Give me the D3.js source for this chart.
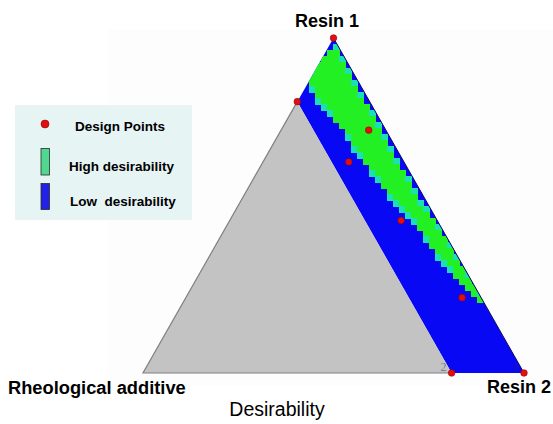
<!DOCTYPE html>
<html>
<head>
<meta charset="utf-8">
<script src="https://cdn.jsdelivr.net/npm/d3@7"></script>
<style>
  body { margin: 0; background: #fff; }
  svg { display: block; font-family: Arial, "Liberation Sans", sans-serif; }
</style>
</head>
<body>
<svg id="chart" width="553" height="424"></svg>
<script>
// mixture components (ternary corners)
var vertexNames = ['Resin 1', 'Resin 2', 'Rheological additive'];

// upper bound on the rheological additive fraction
var additiveMax = 0.19;

// design points as fractions (resin 1, resin 2, additive)
var designResin1   = [1.00, 0.81, 0.725, 0.63, 0.455, 0.225, 0.00, 0.00];
var designResin2   = [0.00, 0.00, 0.23,  0.225, 0.45, 0.725, 0.81, 1.00];
var designAdditive = [0.00, 0.19, 0.045, 0.145, 0.095, 0.05, 0.19, 0.00];

// high desirability band: additive range read at several resin 1 levels
var bandResin1 = [0.975, 0.93, 0.87, 0.81, 0.725, 0.665, 0.516, 0.457, 0.358, 0.257, 0.21];
var bandLow    = [0.008, 0.010, 0.013, 0.013, 0.016, 0.018, 0.018, 0.010, 0.004, 0.000, 0.000];
var bandHigh   = [0.014, 0.075, 0.132, 0.130, 0.108, 0.108, 0.084, 0.062, 0.050, 0.028, 0.000];

var legendLabels = ['Design Points', 'High desirability', 'Low  desirability'];

var colors = {
    high:   '#22f022',
    edge:   '#1ce0b4',
    low:    '#0808f4',
    gray:   '#c3c3c3',
    point:  '#e01010',
    legend: '#e6f4f4'
};

var svg = d3.select('#chart');

// faint plot backdrop
svg.append('rect')
    .attr('x', 108).attr('y', 29)
    .attr('width', 445).attr('height', 357)
    .attr('fill', '#fdfdfd');

// ternary projection: x across the base, y by resin 1 height
var x = d3.scaleLinear().domain([0, 1]).range([143, 524]);
var y = d3.scaleLinear().domain([0, 1]).range([373, 38]);

function project(r1, r2) {
    return [x(r2 + r1 / 2), y(r1)];
}

var feasible = [
    project(1, 0),
    project(0, 1),
    project(0, 1 - additiveMax),
    project(1 - additiveMax, 0)
];
var infeasible = [
    project(0, 0),
    project(1 - additiveMax, 0),
    project(0, 1 - additiveMax)
];

var line = d3.line();

svg.append('clipPath')
    .attr('id', 'feasible-clip')
    .append('path')
    .attr('d', line(feasible) + 'Z');

// low desirability everywhere in the feasible strip
svg.append('path')
    .attr('d', line(feasible) + 'Z')
    .attr('fill', colors.low);

// high desirability cells on a coarse screen grid
var bandLo = d3.scaleLinear().domain(bandResin1).range(bandLow).clamp(true);
var bandHi = d3.scaleLinear().domain(bandResin1).range(bandHigh).clamp(true);
var cell = 6;
var cells = [];
var xs = d3.extent(feasible, p => p[0]);
var ys = d3.extent(feasible, p => p[1]);
for (var cy = ys[0]; cy < ys[1]; cy += cell) {
    for (var cx = xs[0]; cx < xs[1]; cx += cell) {
        var r1 = y.invert(cy + cell / 2);
        var r2 = x.invert(cx + cell / 2) - r1 / 2;
        var a = 1 - r1 - r2;
        if (r1 > bandResin1[0] || r1 < bandResin1[bandResin1.length - 1]) continue;
        var lo = bandLo(r1), hi = bandHi(r1);
        if (hi - lo < 0.004) continue;
        var inside = Math.min(a - lo, hi - a);
        if (inside < -0.005) continue;
        cells.push({ x: cx, y: cy, fill: inside > 0.002 ? colors.high : colors.edge });
    }
}

svg.append('g')
    .attr('clip-path', 'url(#feasible-clip)')
    .attr('shape-rendering', 'crispEdges')
    .selectAll('rect')
    .data(cells)
    .enter().append('rect')
    .attr('x', d => d.x)
    .attr('y', d => d.y)
    .attr('width', cell + 0.5)
    .attr('height', cell + 0.5)
    .attr('fill', d => d.fill);

// dark outline along the additive = 0 edge
svg.append('path')
    .attr('d', line([project(1, 0), project(0, 1)]))
    .attr('stroke', '#0a0a60')
    .attr('stroke-width', 1)
    .attr('fill', 'none');

// region outside the additive limit
svg.append('path')
    .attr('d', line(infeasible) + 'Z')
    .attr('fill', colors.gray);

svg.append('path')
    .attr('d', line([infeasible[1], infeasible[0], infeasible[2]]))
    .attr('stroke', '#808080')
    .attr('stroke-width', 1.2)
    .attr('fill', 'none');

// small vertex markers left by the plotting program
svg.append('text')
    .attr('x', project(0, 1 - additiveMax)[0] - 11)
    .attr('y', 371)
    .attr('font-family', 'Liberation Serif, serif')
    .attr('font-size', 12)
    .attr('fill', '#7a7a9c')
    .text('2');

svg.append('text')
    .attr('x', project(0, 1)[0] - 11)
    .attr('y', 371)
    .attr('font-family', 'Liberation Serif, serif')
    .attr('font-size', 11)
    .attr('fill', '#1c1c90')
    .text('1');

// design points
var points = d3.range(designResin1.length).map(i => project(designResin1[i], designResin2[i]));
svg.append('g')
    .selectAll('circle')
    .data(points)
    .enter().append('circle')
    .attr('cx', d => d[0])
    .attr('cy', d => d[1])
    .attr('r', 3.3)
    .attr('fill', colors.point)
    .attr('stroke', '#a00000')
    .attr('stroke-width', 0.6);

// corner labels
svg.append('text')
    .attr('x', 327)
    .attr('y', 27)
    .attr('text-anchor', 'middle')
    .attr('font-weight', 'bold')
    .attr('font-size', 18)
    .text(vertexNames[0]);

svg.append('text')
    .attr('x', 551)
    .attr('y', 393)
    .attr('text-anchor', 'end')
    .attr('font-weight', 'bold')
    .attr('font-size', 18)
    .text(vertexNames[1]);

svg.append('text')
    .attr('x', 8)
    .attr('y', 394)
    .attr('font-weight', 'bold')
    .attr('font-size', 18.3)
    .text(vertexNames[2]);

svg.append('text')
    .attr('x', 277)
    .attr('y', 416)
    .attr('text-anchor', 'middle')
    .attr('font-size', 19.5)
    .text('Desirability');

// legend
var legend = svg.append('g');
legend.append('rect')
    .attr('x', 15).attr('y', 105)
    .attr('width', 177).attr('height', 115)
    .attr('fill', colors.legend);

legend.append('circle')
    .attr('cx', 45).attr('cy', 124)
    .attr('r', 4)
    .attr('fill', colors.point)
    .attr('stroke', '#900000')
    .attr('stroke-width', 0.6);

legend.append('rect')
    .attr('x', 41).attr('y', 148.5)
    .attr('width', 8.5).attr('height', 26.5)
    .attr('fill', '#50d890')
    .attr('stroke', '#2a2a2a')
    .attr('stroke-width', 0.8);

legend.append('rect')
    .attr('x', 41).attr('y', 183.5)
    .attr('width', 8.5).attr('height', 26)
    .attr('fill', '#2222e6')
    .attr('stroke', '#2a2a2a')
    .attr('stroke-width', 0.8);

legend.selectAll('text.legend-label')
    .data(legendLabels)
    .enter().append('text')
    .attr('class', 'legend-label')
    .attr('x', (d, i) => [75, 69, 70][i])
    .attr('y', (d, i) => [131, 170.5, 206][i])
    .attr('font-weight', 'bold')
    .attr('font-size', 13.5)
    .style('white-space', 'pre')
    .text(d => d);
</script>
</body>
</html>
